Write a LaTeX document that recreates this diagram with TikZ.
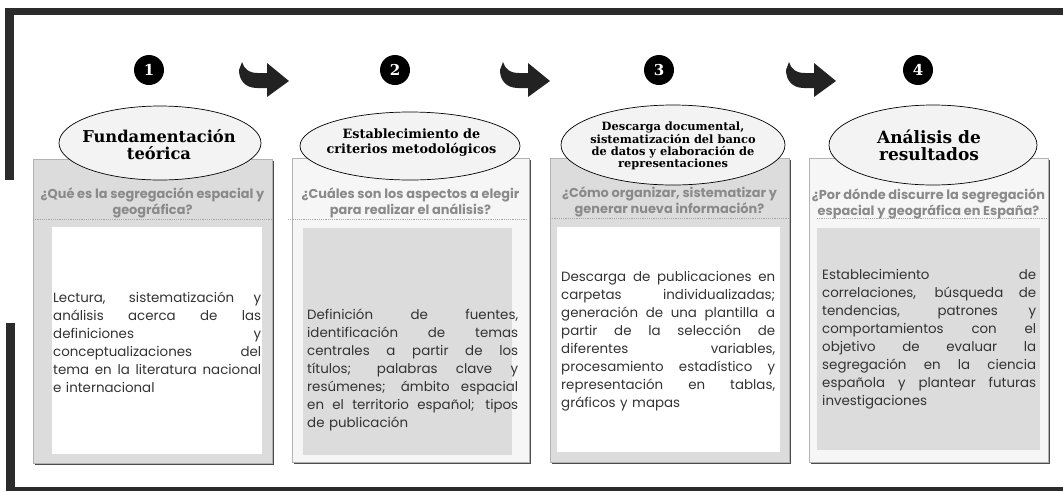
\documentclass[tikz,border=0pt]{standalone}
\usepackage{fontspec}
\setmainfont{DejaVu Serif}
\newfontfamily\bodyf{Poppins}
\newfontfamily\headf{Poppins}
\newfontfamily\titlef{DejaVu Serif}
\usetikzlibrary{shapes.geometric,shadows}
\definecolor{framec}{HTML}{2B2B2B}
\definecolor{cardgray}{HTML}{DCDCDC}
\definecolor{cardlight}{HTML}{F6F6F6}
\definecolor{headc}{HTML}{8A8A8A}
\definecolor{bodyc}{HTML}{333333}
\definecolor{ellc}{HTML}{F3F3F3}
\definecolor{arrc}{HTML}{222222}
\newcommand{\jl}[2]{\leavevmode{\spaceskip=0.27em plus 1fil\relax\hbox to #1{#2}}}
\tikzset{
  cardbox/.style={rectangle, draw=black!30, line width=0.4pt, inner sep=0, anchor=north west,
     minimum width=239, minimum height=304,
     drop shadow={shadow xshift=1.6pt, shadow yshift=-1.6pt, fill=black!70, opacity=1}},
  innerbox/.style={rectangle, draw=none, inner sep=0, anchor=north west, minimum width=210, minimum height=227},
  hdash/.style={draw=black!35, dash pattern=on 1.2pt off 1pt, line width=0.5pt},
  headq/.style={font=\headf\bfseries\fontsize{12.9}{15.5}\selectfont, text=headc, align=center, inner sep=0},
  bodytxt/.style={font=\bodyf\fontsize{13.4}{18}\selectfont, text=bodyc, align=left, inner sep=0, anchor=west},
  ellbox/.style={ellipse, draw=black, line width=0.7pt, fill=ellc, inner sep=0},
  titletxt/.style={align=center, inner sep=0, text=black},
  numc/.style={circle, fill=black, minimum size=30, inner sep=0, text=white, font=\titlef\bfseries\fontsize{15}{15}\selectfont},
  framepart/.style={fill=framec, draw=none},
  arrowshape/.style={fill=arrc, draw=none}
}
\begin{document}
\begin{tikzpicture}[x=1pt,y=-1pt]
\useasboundingbox (0,0) rectangle (1063,491);
\fill[white] (0,0) rectangle (1063,491);

% frame
\fill[framepart] (5,8) rectangle (1063,15);
\fill[framepart] (5,8) rectangle (14,180);
\fill[framepart] (6,323) rectangle (15,491);
\fill[framepart] (6,487) rectangle (1063,491);

% cards
\node[cardbox, fill=cardgray] (c1) at (33,159) {};
\node[cardbox, fill=cardlight, minimum width=237] (c2) at (292,158) {};
\node[cardbox, fill=cardgray] (c3) at (550,158) {};
\node[cardbox, fill=cardlight] (c4) at (809,158) {};

% inner boxes
\node[innerbox, fill=white] (i1) at (52,227) {};
\node[innerbox, fill=cardgray, minimum width=209] (i2) at (303,228) {};
\node[innerbox, fill=white, minimum width=223, minimum height=225] (i3) at (557,227) {};
\node[innerbox, fill=cardgray, minimum width=223, minimum height=222] (i4) at (817,228) {};

% dividers
\draw[hdash] (33,219) -- (272,219);
\draw[hdash] (288,219) -- (526,219);
\draw[hdash] (550,218) -- (789,218);
\draw[hdash] (817,218) -- (1047,218);

% header questions
\node[headq] (q1) at (152.5,203) {¿Qué es la segregación espacial y\\geográfica?};
\node[headq] (q2) at (410.5,203) {¿Cuáles son los aspectos a elegir\\para realizar el análisis?};
\node[headq] (q3) at (669.5,202) {¿Cómo organizar, sistematizar y\\generar nueva información?};
\node[headq] (q4) at (928.5,204) {¿Por dónde discurre la segregación\\espacial y geográfica en España?};

% body texts
\node[bodytxt, text width=208] (b1) at (53,342) {%
\jl{208pt}{Lectura, sistematización y}\\
\jl{208pt}{análisis acerca de las}\\
\jl{208pt}{definiciones y}\\
\jl{208pt}{conceptualizaciones del}\\
\jl{208pt}{tema en la literatura nacional}\\
e internacional};
\node[bodytxt, text width=211] (b2) at (307,370) {%
\jl{211pt}{Definición de fuentes,}\\
\jl{211pt}{identificación de temas}\\
\jl{211pt}{centrales a partir de los}\\
\jl{211pt}{títulos; palabras clave y}\\
\jl{211pt}{resúmenes; ámbito espacial}\\
\jl{211pt}{en el territorio español; tipos}\\
de publicación};
\node[bodytxt, text width=214] (b3) at (561,341) {%
\jl{214pt}{Descarga de publicaciones en}\\
\jl{214pt}{carpetas individualizadas;}\\
\jl{214pt}{generación de una plantilla a}\\
\jl{214pt}{partir de la selección de}\\
\jl{214pt}{diferentes variables,}\\
\jl{214pt}{procesamiento estadístico y}\\
\jl{214pt}{representación en tablas,}\\
gráficos y mapas};
\node[bodytxt, text width=214] (b4) at (822,339) {%
\jl{214pt}{Establecimiento de}\\
\jl{214pt}{correlaciones, búsqueda de}\\
\jl{214pt}{tendencias, patrones y}\\
\jl{214pt}{comportamientos con el}\\
\jl{214pt}{objetivo de evaluar la}\\
\jl{214pt}{segregación en la ciencia}\\
\jl{214pt}{española y plantear futuras}\\
investigaciones};

% ellipses
\node[ellbox, minimum width=202, minimum height=74] (e1) at (160,143) {};
\node[ellbox, minimum width=220, minimum height=68] (e2) at (410,146) {};
\node[ellbox, minimum width=224, minimum height=80] (e3) at (673,145) {};
\node[ellbox, minimum width=208, minimum height=80] (e4) at (933,145) {};

\node[titletxt, font=\titlef\bfseries\fontsize{16.3}{17}\selectfont] (t1) at (159,145) {Fundamentación\\teórica};
\node[titletxt, font=\titlef\bfseries\fontsize{12.8}{15}\selectfont] (t2) at (411.5,143) {Establecimiento de\\criterios metodológicos};
\node[titletxt, font=\titlef\bfseries\fontsize{11.4}{12.3}\selectfont] (t3) at (673,146) {Descarga documental,\\sistematización del banco\\de datos y elaboración de\\representaciones};
\node[titletxt, font=\titlef\bfseries\fontsize{17}{17}\selectfont] (t4) at (929,145) {Análisis de\\resultados};

% numbers
\node[numc] (n1) at (149,70) {1};
\node[numc] (n2) at (395,70) {2};
\node[numc] (n3) at (659,70) {3};
\node[numc] (n4) at (918,70) {4};

% curved arrows
\foreach \ox in {239,500,786} {
  \begin{scope}[shift={(\ox,62)}]
  \fill[arrowshape] (3,0) .. controls (5,7) and (10,11) .. (19,11) -- (28,11) -- (28,1) -- (50,19) -- (28,35) -- (28,26) -- (18,26) .. controls (6,26) and (0,18) .. (0,8) -- cycle;
  \end{scope}
}
\end{tikzpicture}
\end{document}
